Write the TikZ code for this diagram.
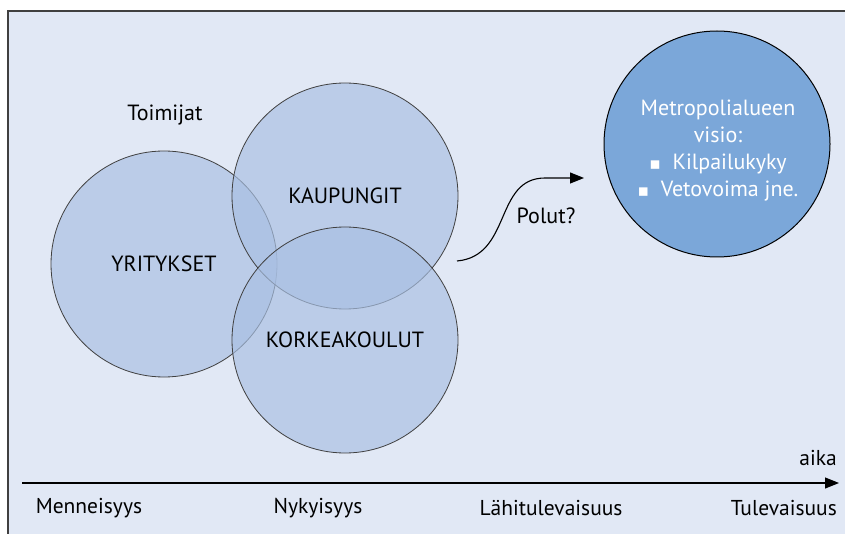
\documentclass[tikz,border=0pt]{standalone}
\usepackage{fontspec}
\setmainfont{PT Sans}
\newfontfamily\symfont{DejaVu Sans}
\usetikzlibrary{arrows.meta}
\definecolor{panel}{RGB}{225,232,245}
\definecolor{venn}{RGB}{169,192,227}
\definecolor{vision}{RGB}{123,167,217}
\definecolor{edge}{RGB}{64,64,64}
\newcommand{\sqbullet}{{\symfont\fontsize{17}{17}\selectfont\raisebox{0.5pt}{▪}}}
\tikzset{
  actor/.style={circle, draw=edge, line width=0.8pt, fill=venn, fill opacity=0.68,
                draw opacity=1, minimum size=226pt, inner sep=0pt},
  label/.style={font=\fontsize{22}{24}\selectfont, text=black, inner sep=0pt},
  era/.style={font=\fontsize{21.5}{23}\selectfont, text=black, inner sep=0pt},
  goal/.style={circle, draw=black, line width=1pt, fill=vision, minimum size=226pt,
               inner sep=0pt},
  flow/.style={line width=1.1pt, -{Triangle[length=14pt,width=11pt]}}
}
\begin{document}
\begin{tikzpicture}[x=1pt,y=-1pt]
  \useasboundingbox (0,0) rectangle (845,534);
  % panel background with its left and top border
  \fill[panel] (8,11) rectangle (845,534);
  \draw[edge, line width=1.5pt] (8,534) -- (8,11) -- (845,11);

  % overlapping actor circles
  \node[actor] (yri) at (164,264) {};
  \node[actor] (kau) at (345,196) {};
  \node[actor] (kor) at (345,340) {};
  \node[label] at (yri.center) {YRITYKSET};
  \node[label] at (kau.center) {KAUPUNGIT};
  \node[label] at (kor.center) {KORKEAKOULUT};
  \node[label] (toim) at (165,115) {Toimijat};

  % vision circle
  \node[goal] (vis) at (717,144) {};
  \node[font=\fontsize{22}{27}\selectfont, text=white, align=center, inner sep=0pt]
    (vistxt) at (718,151) {Metropolialueen\\visio:\\
      \sqbullet\ \ Kilpailukyky\\
      \sqbullet\ \ Vetovoima jne.};

  % path towards the vision
  \coordinate (pstart) at (457,261);
  \coordinate (pturn) at (545,178);
  \coordinate (pend) at (584,178);
  \draw[flow] (pstart) .. controls (512,256) and (494,178) .. (pturn) -- (pend);
  \node[label] (polut) at (546,216) {Polut?};

  % time axis
  \coordinate (tstart) at (22,483);
  \coordinate (tend) at (839,483);
  \draw[flow] (tstart) -- (tend);
  \node[era, anchor=east] (aika) at (837,458) {aika};
  \node[era] (past) at (89,508) {Menneisyys};
  \node[era] (now) at (318,508) {Nykyisyys};
  \node[era] (near) at (551,508) {Lähitulevaisuus};
  \node[era, anchor=east] (fut) at (837,508) {Tulevaisuus};
\end{tikzpicture}
\end{document}
